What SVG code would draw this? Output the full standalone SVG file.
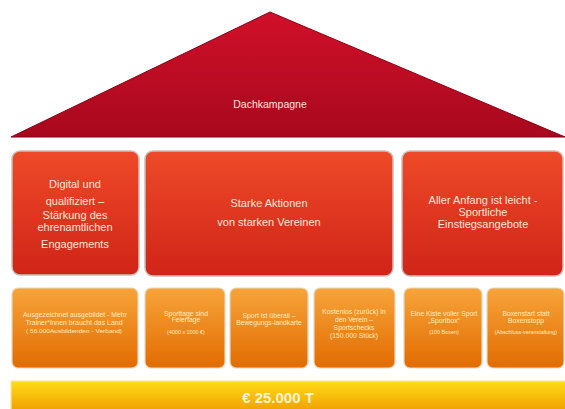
<svg xmlns="http://www.w3.org/2000/svg" width="565" height="409" viewBox="0 0 565 409">
<defs>
<linearGradient id="gRoof" x1="0" y1="0" x2="0" y2="1">
<stop offset="0" stop-color="#d01028"/><stop offset="1" stop-color="#a8081e"/>
</linearGradient>
<linearGradient id="gRed" x1="0" y1="0" x2="0" y2="1">
<stop offset="0" stop-color="#ee4a28"/><stop offset="1" stop-color="#d02418"/>
</linearGradient>
<linearGradient id="gOr" x1="0" y1="0" x2="0" y2="1">
<stop offset="0" stop-color="#f7a43a"/><stop offset="1" stop-color="#e26c00"/>
</linearGradient>
<linearGradient id="gYel" x1="0" y1="0" x2="0" y2="1">
<stop offset="0" stop-color="#ffdc18"/><stop offset="1" stop-color="#f0a000"/>
</linearGradient>
</defs>
<style>
.red{fill:url(#gRed);stroke:#c8c0bc;stroke-width:1.5}
.or{fill:url(#gOr);stroke:#e8d8c0;stroke-width:1.2}
.t{font-family:"Liberation Sans",Arial,sans-serif;text-anchor:middle;fill:#fbe6dc}
.big{font-size:11px}
.sm{font-size:6.8px;fill:#ffeec0}
.xs{font-size:5.4px;fill:#ffeec0}
</style>
<rect width="565" height="409" fill="#ffffff"/>
<g id="roof">
<polygon points="270,12 565,137 11,137" fill="url(#gRoof)" stroke="#8a0016" stroke-width="1"/>
<text class="t" x="270" y="108" style="font-size:10.5px">Dachkampagne</text>
</g>
<g id="pillar1">
<rect class="red" x="12" y="151" width="127" height="124" rx="8"/>
<text class="t big" x="75" y="188">Digital und</text>
<text class="t big" x="75" y="205">qualifiziert –</text>
<text class="t big" x="75" y="219">Stärkung des</text>
<text class="t big" x="75" y="231">ehrenamtlichen</text>
<text class="t big" x="75" y="248">Engagements</text>
</g>
<g id="pillar2">
<rect class="red" x="145" y="151" width="248" height="125" rx="8"/>
<text class="t big" x="269" y="207">Starke Aktionen</text>
<text class="t big" x="269" y="226">von starken Vereinen</text>
</g>
<g id="pillar3">
<rect class="red" x="402" y="151" width="161" height="125" rx="8"/>
<text class="t big" x="483" y="204">Aller Anfang ist leicht -</text>
<text class="t big" x="483" y="216">Sportliche</text>
<text class="t big" x="483" y="228">Einstiegsangebote</text>
</g>
<g id="item1">
<rect class="or" x="12" y="288" width="126" height="80" rx="6"/>
<text class="t sm" x="75" y="317" textLength="104" lengthAdjust="spacingAndGlyphs">Ausgezeichnet ausgebildet - Mehr</text>
<text class="t sm" x="74" y="325" textLength="97" lengthAdjust="spacingAndGlyphs">Trainer*innen braucht das Land</text>
<text class="t xs" x="74" y="333" textLength="96" lengthAdjust="spacingAndGlyphs">( 56.000Ausbildenden - Verband)</text>
</g>
<g id="item2">
<rect class="or" x="145" y="288" width="80" height="80" rx="6"/>
<text class="t sm" x="186" y="316">Sporttage sind</text>
<text class="t sm" x="186" y="322">Feiertage</text>
<text class="t xs" x="186" y="334">(4000 x 1000 €)</text>
</g>
<g id="item3">
<rect class="or" x="230" y="288" width="78" height="80" rx="6"/>
<text class="t sm" x="269" y="318">Sport ist überall –</text>
<text class="t sm" x="269" y="325">Bewegungs-landkarte</text>
</g>
<g id="item4">
<rect class="or" x="314" y="288" width="81" height="80" rx="6"/>
<text class="t sm" x="354" y="314">Kostenlos (zurück) in</text>
<text class="t sm" x="354" y="322">den Verein –</text>
<text class="t sm" x="354" y="330">Sportschecks</text>
<text class="t sm" x="354" y="338">(150.000 Stück)</text>
</g>
<g id="item5">
<rect class="or" x="404" y="288" width="78" height="80" rx="6"/>
<text class="t sm" x="444" y="316">Eine Kiste voller Sport</text>
<text class="t sm" x="444" y="323">„Sportbox“</text>
<text class="t xs" x="444" y="334">(100 Boxen)</text>
</g>
<g id="item6">
<rect class="or" x="487" y="288" width="77" height="80" rx="6"/>
<text class="t sm" x="526" y="316">Boxenstart statt</text>
<text class="t sm" x="526" y="323">Boxenstopp</text>
<text class="t xs" x="526" y="334">(Abschluss-veranstaltung)</text>
</g>
<g id="budget">
<rect x="11" y="381" width="556" height="30" fill="url(#gYel)" stroke="#f6e8a0" stroke-width="1.2"/>
<text class="t" x="278" y="403" style="font-size:15px;font-weight:bold;fill:#fff4d0">€ 25.000 T</text>
</g>
</svg>
